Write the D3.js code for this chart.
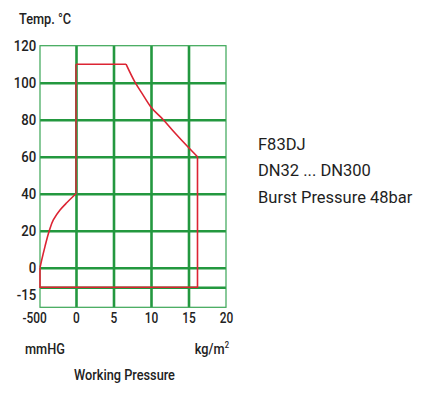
<!DOCTYPE html>
<html>
<head>
<meta charset="utf-8">
<script src="https://cdn.jsdelivr.net/npm/d3@7"></script>
<style>
  body { margin: 0; background: #fff; }
  svg { display: block; }
  .tick text, .lbl { font-family: Roboto, "DejaVu Sans Condensed", sans-serif; font-weight: 500; fill: #222; }
  .info { font-family: Roboto, "Open Sans", sans-serif; fill: #1e1e1e; }
</style>
</head>
<body>
<svg></svg>
<script>
// ticks: left of 0 is mmHg, right of 0 is kg/m2
let xTicks = [-500, 0, 5, 10, 15, 20];
let yTicks = [-15, 0, 20, 40, 60, 80, 100, 120];

// vacuum side curve (mmHg, degC)
let vacuumCurve = [
  [-500, 0], [-476, 4.2], [-431, 11.4], [-371, 20], [-315, 25.8],
  [-222, 31.2], [-129, 35.1], [0, 40]
];
// pressure side curve (kg/m2, degC)
let pressureCurve = [
  [6.67, 110], [7.9, 100], [8.76, 94.5], [9.96, 87], [11.64, 80],
  [13.2, 72.8], [14.97, 65.1], [16.2, 60]
];
let topEdge = [[0, 40], [0, 110], [6.67, 110]];
let outerEdge = [[16.2, 60], [16.2, -15], [-500, -15], [-500, 0]];

let infoLines = ["F83DJ", "DN32 ... DN300", "Burst Pressure 48bar"];

let width = 431;
let height = 397;
let squeeze = 'scale(0.85,1)';

let svg = d3.select('svg')
  .attr('width', width)
  .attr('height', height);

let xScale = d3.scaleLinear()
  .domain([-500, 0, 20])
  .range([40, 76, 226]);

let yScale = d3.scaleLinear()
  .domain([-30, -15, 0, 120])
  .range([307.3, 287.3, 267.7, 45.7]);

let plotLeft = 40, plotRight = 226, plotTop = 45.7, plotBottom = 307.3;
let green = '#23983f';

// grid + labels via axes
let xAxis = d3.axisBottom(xScale)
  .tickValues(xTicks)
  .tickFormat(d => String(d))
  .tickSize(-(plotBottom - plotTop))
  .tickPadding(6);

let gx = svg.append('g')
  .attr('id', 'x-axis')
  .attr('transform', 'translate(0,' + plotBottom + ')')
  .call(xAxis);

let yAxis = d3.axisLeft(yScale)
  .tickValues(yTicks)
  .tickFormat(d => String(d))
  .tickSize(-(plotRight - plotLeft))
  .tickPadding(4.5);

let gy = svg.append('g')
  .attr('id', 'y-axis')
  .attr('transform', 'translate(' + plotLeft + ',0)')
  .call(yAxis);

[gx, gy].forEach(g => {
  g.select('.domain').remove();
  g.selectAll('.tick line')
    .attr('stroke', green)
    .attr('stroke-width', 2.6);
  g.selectAll('.tick text').attr('transform', squeeze);
});
gx.selectAll('.tick text').attr('font-size', 14);
gy.selectAll('.tick text').attr('font-size', 15.5);

// outer ticks are drawn by the thin border instead
gx.selectAll('.tick').filter(d => d === -500 || d === 20).select('line').remove();
gy.selectAll('.tick').filter(d => d === 120).select('line').remove();
gx.selectAll('.tick').filter(d => d === -500).select('text').attr('dx', -7);
gy.selectAll('.tick').filter(d => d === -15).select('text').attr('dy', '0.8em');

svg.append('rect')
  .attr('x', plotLeft)
  .attr('y', plotTop)
  .attr('width', plotRight - plotLeft)
  .attr('height', plotBottom - plotTop)
  .attr('fill', 'none')
  .attr('stroke', '#3aa655')
  .attr('stroke-width', 1.2);

// envelope
let red = '#dc2433';
let lineX = d3.line()
  .x(d => xScale(d[0]))
  .y(d => yScale(d[1]))
  .curve(d3.curveMonotoneX);
let lineY = d3.line()
  .x(d => xScale(d[0]))
  .y(d => yScale(d[1]))
  .curve(d3.curveMonotoneY);
let straight = d3.line()
  .x(d => xScale(d[0]))
  .y(d => yScale(d[1]));

let env = svg.append('g')
  .attr('fill', 'none')
  .attr('stroke', red)
  .attr('stroke-width', 1.6);

env.append('path').attr('d', lineY(vacuumCurve));
env.append('path').attr('d', lineX(pressureCurve));
env.append('path').attr('d', straight(outerEdge));
env.append('path').attr('d', straight(topEdge.slice(1)));
// the part lying on the 0 grid line shows darker
env.append('path').attr('d', straight(topEdge.slice(0, 2))).attr('stroke', '#a8473b').attr('stroke-width', 2);

// axis titles
function label(x, y, txt, anchor) {
  return svg.append('text').attr('class', 'lbl')
    .attr('transform', 'translate(' + x + ',' + y + ') ' + squeeze)
    .attr('font-size', 15)
    .attr('text-anchor', anchor || 'start')
    .text(txt);
}

label(19, 24, 'Temp. °C');
label(25, 354, 'mmHG');
label(124.5, 380, 'Working Pressure', 'middle');
let kg = label(229, 354, 'kg/m', 'end');
kg.append('tspan').attr('font-size', 9).attr('dy', -6).text('2');

// product info
svg.append('g')
  .selectAll('text')
  .data(infoLines)
  .enter()
  .append('text')
  .attr('class', 'info')
  .attr('x', 258)
  .attr('y', (d, i) => 150 + i * 26.3)
  .attr('font-size', 16.5)
  .text(d => d);
</script>
</body>
</html>
